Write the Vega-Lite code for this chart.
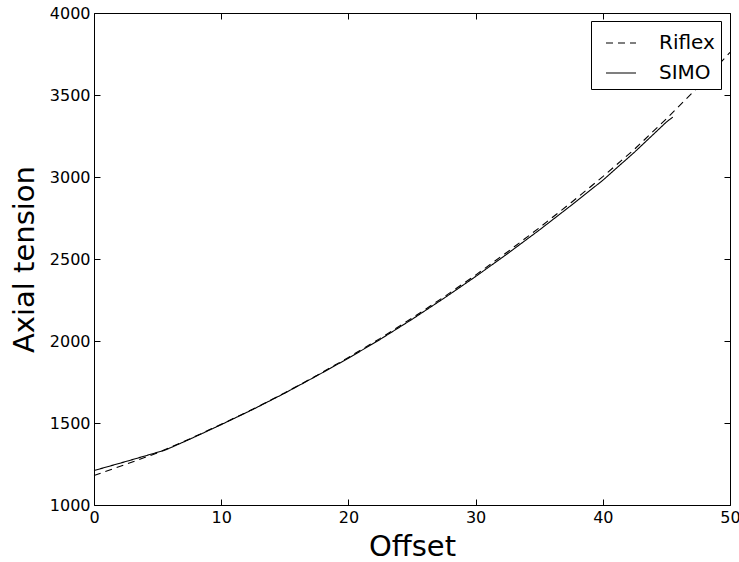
{
  "$schema": "https://vega.github.io/schema/vega-lite/v6.json",
  "autosize": "none",
  "width": 636,
  "height": 492,
  "padding": {"left": 94, "top": 13, "right": 9, "bottom": 57},
  "background": "white",
  "config": {
    "font": "DejaVu Sans",
    "view": {"stroke": "black", "strokeWidth": 1},
    "axis": {"grid": false, "domain": false, "tickColor": "black", "labelColor": "black", "titleColor": "black", "labelFont": "DejaVu Sans", "titleFont": "DejaVu Sans", "titleFontWeight": "normal"}
  },
  "data": {"values": [
    {"offset": 0, "tension": 1180, "model": "Riflex"},
    {"offset": 2.5, "tension": 1248, "model": "Riflex"},
    {"offset": 5, "tension": 1318, "model": "Riflex"},
    {"offset": 7.5, "tension": 1402, "model": "Riflex"},
    {"offset": 10, "tension": 1492, "model": "Riflex"},
    {"offset": 12.5, "tension": 1585, "model": "Riflex"},
    {"offset": 15, "tension": 1684, "model": "Riflex"},
    {"offset": 17.5, "tension": 1789, "model": "Riflex"},
    {"offset": 20, "tension": 1900, "model": "Riflex"},
    {"offset": 22.5, "tension": 2016, "model": "Riflex"},
    {"offset": 25, "tension": 2139, "model": "Riflex"},
    {"offset": 27.5, "tension": 2268, "model": "Riflex"},
    {"offset": 30, "tension": 2402, "model": "Riflex"},
    {"offset": 32.5, "tension": 2543, "model": "Riflex"},
    {"offset": 35, "tension": 2690, "model": "Riflex"},
    {"offset": 37.5, "tension": 2843, "model": "Riflex"},
    {"offset": 40, "tension": 3002, "model": "Riflex"},
    {"offset": 42.5, "tension": 3170, "model": "Riflex"},
    {"offset": 45, "tension": 3355, "model": "Riflex"},
    {"offset": 47.5, "tension": 3550, "model": "Riflex"},
    {"offset": 50, "tension": 3760, "model": "Riflex"},
    {"offset": 0, "tension": 1210, "model": "SIMO"},
    {"offset": 2.5, "tension": 1265, "model": "SIMO"},
    {"offset": 5.6, "tension": 1335, "model": "SIMO"},
    {"offset": 7.5, "tension": 1400, "model": "SIMO"},
    {"offset": 10, "tension": 1490, "model": "SIMO"},
    {"offset": 12.5, "tension": 1583, "model": "SIMO"},
    {"offset": 15, "tension": 1682, "model": "SIMO"},
    {"offset": 17.5, "tension": 1787, "model": "SIMO"},
    {"offset": 20, "tension": 1895, "model": "SIMO"},
    {"offset": 22.5, "tension": 2010, "model": "SIMO"},
    {"offset": 25, "tension": 2132, "model": "SIMO"},
    {"offset": 27.5, "tension": 2260, "model": "SIMO"},
    {"offset": 30, "tension": 2393, "model": "SIMO"},
    {"offset": 32.5, "tension": 2532, "model": "SIMO"},
    {"offset": 35, "tension": 2676, "model": "SIMO"},
    {"offset": 37.5, "tension": 2826, "model": "SIMO"},
    {"offset": 40, "tension": 2980, "model": "SIMO"},
    {"offset": 42.5, "tension": 3152, "model": "SIMO"},
    {"offset": 45, "tension": 3335, "model": "SIMO"},
    {"offset": 45.5, "tension": 3365, "model": "SIMO"}
  ]},
  "layer": [
    {
      "mark": {"type": "line", "color": "black", "strokeWidth": 1.1},
      "encoding": {
        "x": {"field": "offset", "type": "quantitative", "scale": {"domain": [0, 50], "nice": false, "zero": false},
          "axis": {"orient": "bottom", "values": [0, 10, 20, 30, 40, 50], "tickSize": -6, "labelPadding": 10, "labelFontSize": 16, "title": "Offset", "titleFontSize": 29, "titlePadding": 7, "labelFlush": false}},
        "y": {"field": "tension", "type": "quantitative", "scale": {"domain": [1000, 4000], "nice": false, "zero": false},
          "axis": {"orient": "left", "values": [1000, 1500, 2000, 2500, 3000, 3500, 4000], "format": "d", "tickSize": -6, "labelPadding": 10, "labelFontSize": 16, "title": "Axial tension", "titleFontSize": 29, "titlePadding": 10, "labelFlush": false}},
        "strokeDash": {"field": "model", "type": "nominal",
          "scale": {"domain": ["Riflex", "SIMO"], "range": [[7, 5], [1, 0]]},
          "legend": {"title": null, "orient": "none", "legendX": 497, "legendY": 8, "symbolType": "stroke", "symbolSize": 900, "symbolStrokeColor": "black", "symbolOpacity": 1, "symbolStrokeWidth": 1.2, "labelFontSize": 20, "labelColor": "black", "labelOffset": 22, "rowPadding": 4, "padding": 6, "symbolOffset": 8, "strokeColor": "black", "fillColor": "white"}}
      }
    },
    {
      "mark": {"type": "rule", "opacity": 0},
      "encoding": {
        "x": {"field": "offset", "type": "quantitative",
          "axis": {"orient": "top", "values": [0, 10, 20, 30, 40, 50], "tickSize": -6, "labels": false, "title": null}},
        "y": {"field": "tension", "type": "quantitative",
          "axis": {"orient": "right", "values": [1000, 1500, 2000, 2500, 3000, 3500, 4000], "tickSize": -6, "labels": false, "title": null}}
      }
    }
  ],
  "resolve": {"axis": {"x": "independent", "y": "independent"}}
}
